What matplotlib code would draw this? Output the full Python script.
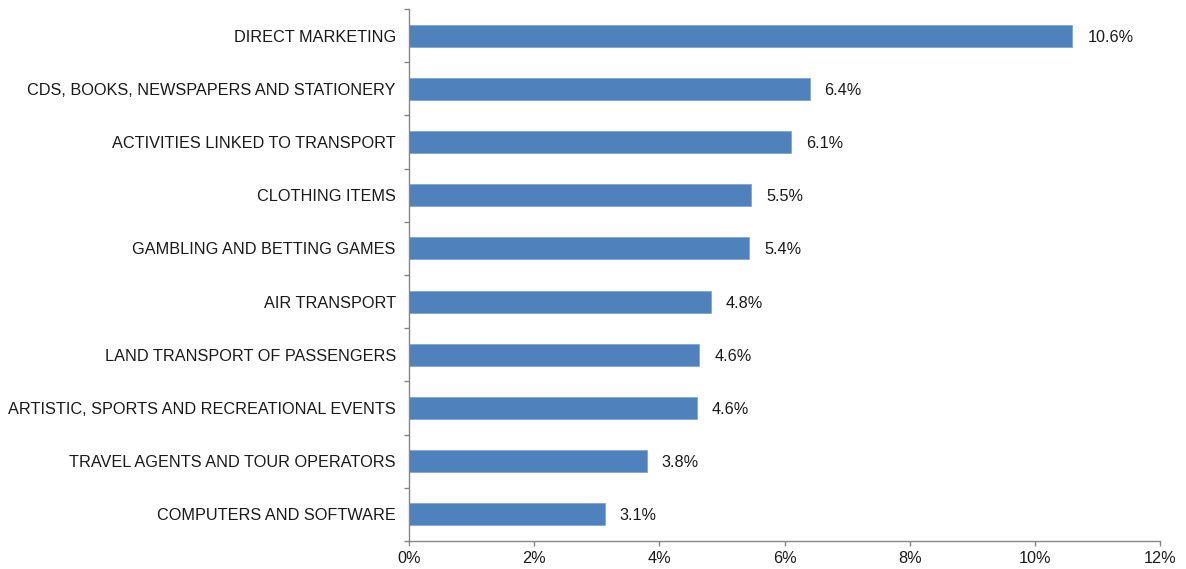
import matplotlib.pyplot as plt
from matplotlib.ticker import FuncFormatter

plt.rcParams["font.family"] = ["Liberation Sans", "DejaVu Sans"]

categories = [
    "DIRECT MARKETING",
    "CDS, BOOKS, NEWSPAPERS AND STATIONERY",
    "ACTIVITIES LINKED TO TRANSPORT",
    "CLOTHING ITEMS",
    "GAMBLING AND BETTING GAMES",
    "AIR TRANSPORT",
    "LAND TRANSPORT OF PASSENGERS",
    "ARTISTIC, SPORTS AND RECREATIONAL EVENTS",
    "TRAVEL AGENTS AND TOUR OPERATORS",
    "COMPUTERS AND SOFTWARE",
]
shares = [10.6, 6.4, 6.1, 5.47, 5.44, 4.82, 4.64, 4.6, 3.8, 3.13]  # percent
x_ticks = [0, 2, 4, 6, 8, 10, 12]

axis_grey = "#868686"
text_col = "#1a1a1a"
fs = 11.7

fig = plt.figure(figsize=(11.86, 5.69), dpi=100)
ax = fig.add_axes([409 / 1186, 28 / 569, 751 / 1186, 532 / 569])

pos = list(range(len(categories)))
ax.barh(pos, shares, height=0.41, color="#4F81BD", edgecolor="#7FA6D6", linewidth=0.6)

for y, v in zip(pos, shares):
    ax.text(v + 0.24, y, f"{v:.1f}%", va="center_baseline", ha="left",
            fontsize=fs, color=text_col)

ax.set_ylim(len(categories) - 0.5, -0.5)
ax.set_xlim(0, 12)
ax.set_xticks(x_ticks)
ax.xaxis.set_major_formatter(FuncFormatter(lambda x, _: f"{x:.0f}%"))

# category labels sit between the boundary ticks
ax.set_yticks([p - 0.5 for p in pos] + [len(categories) - 0.5])
ax.set_yticklabels([])
ax.set_yticks(pos, minor=True)
ax.set_yticklabels(categories, minor=True, va="center_baseline")
ax.tick_params(axis="y", which="minor", length=0, pad=9.5, labelsize=fs, labelcolor=text_col)
ax.tick_params(axis="y", which="major", length=3.5, color=axis_grey, width=1)
ax.tick_params(axis="x", length=3.5, color=axis_grey, width=1, pad=4, labelsize=fs, labelcolor=text_col)

for side in ["top", "right"]:
    ax.spines[side].set_visible(False)
for side in ["left", "bottom"]:
    ax.spines[side].set_color(axis_grey)
    ax.spines[side].set_linewidth(1)

fig.savefig("out.png", dpi=100)
